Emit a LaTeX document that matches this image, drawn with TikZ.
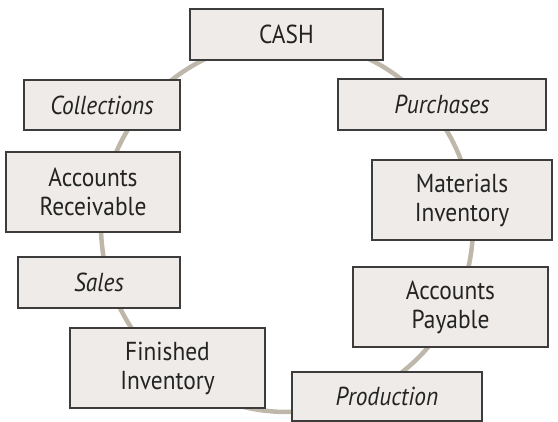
\documentclass[tikz,border=0pt]{standalone}
\usepackage{fontspec}
\setmainfont[FakeStretch=0.9]{PT Sans}
\definecolor{boxfill}{RGB}{238,235,232}
\definecolor{boxline}{RGB}{60,60,60}
\definecolor{ringgray}{RGB}{190,183,170}
\definecolor{inkgray}{RGB}{35,35,35}
\begin{document}
\begin{tikzpicture}[x=1pt,y=-1pt,
	stage/.style={draw=boxline,line width=1.5pt,fill=boxfill,text=inkgray,align=center,inner sep=0pt,
		font=\fontsize{26}{29}\selectfont},
	flow/.style={stage,font=\fontsize{26}{29}\selectfont\itshape}]
\useasboundingbox (0,0) rectangle (558,422);

% cycle ring
	\coordinate (hub) at (287,226);
	\draw[ringgray,line width=4.5pt] (hub) circle (186pt);

% balances
	\node[stage,minimum width=193pt,minimum height=51pt] (cash) at (286.5,34.5) {CASH};
	\node[stage,minimum width=174pt,minimum height=80pt] (receivable) at (93,192) {Accounts\\Receivable};
	\node[stage,minimum width=180pt,minimum height=80pt] (materials) at (462,200) {Materials\\Inventory};
	\node[stage,minimum width=195pt,minimum height=80pt] (payable) at (450.5,307) {Accounts\\Payable};
	\node[stage,minimum width=195pt,minimum height=80pt] (finished) at (167.5,368) {Finished\\Inventory};

% flows
	\node[flow,minimum width=156pt,minimum height=50pt] (collections) at (102,105) {Collections};
	\node[flow,minimum width=208pt,minimum height=51pt] (purchases) at (442,104.5) {Purchases};
	\node[flow,minimum width=162pt,minimum height=51pt] (sales) at (99,282.5) {Sales};
	\node[flow,minimum width=190pt,minimum height=49pt] (production) at (387,396.5) {Production};
\end{tikzpicture}
\end{document}
